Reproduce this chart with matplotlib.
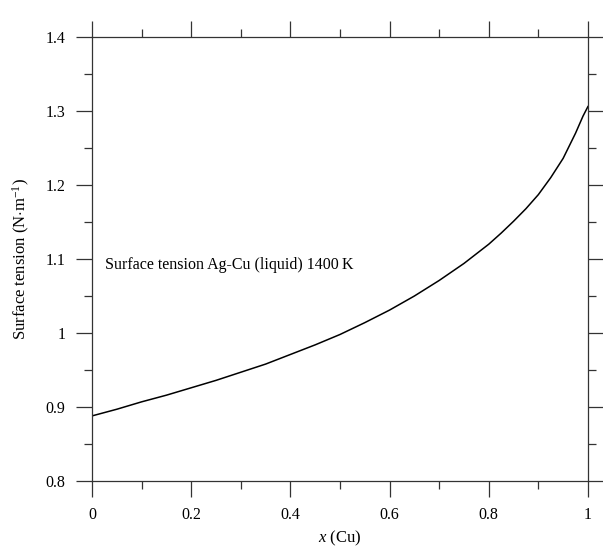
import matplotlib
matplotlib.use("Agg")
import matplotlib.pyplot as plt
from matplotlib.ticker import MultipleLocator, FuncFormatter

# ==========================================================
# DATA
# ==========================================================

x_cu = [0.0, 0.05, 0.1, 0.15, 0.2, 0.25, 0.3, 0.35, 0.4, 0.45,
        0.5, 0.55, 0.6, 0.65, 0.7, 0.75, 0.8, 0.825, 0.85, 0.875,
        0.9, 0.925, 0.95, 0.975, 0.99, 1.0]
sigma = [0.888, 0.897, 0.907, 0.916, 0.926, 0.936, 0.947, 0.958, 0.971, 0.984,
         0.998, 1.014, 1.031, 1.050, 1.071, 1.094, 1.120, 1.135, 1.151, 1.168,
         1.187, 1.210, 1.236, 1.270, 1.293, 1.306]

x_ticks = [0, 0.2, 0.4, 0.6, 0.8, 1.0]
y_ticks = [0.8, 0.9, 1.0, 1.1, 1.2, 1.3, 1.4]

label_text = "Surface tension Ag-Cu (liquid) 1400\u2009K"

# ==========================================================
# FIGURE
# ==========================================================

plt.rcParams["font.family"] = ["Liberation Serif", "DejaVu Serif"]
plt.rcParams["mathtext.fontset"] = "custom"
plt.rcParams["mathtext.rm"] = "Liberation Serif"
plt.rcParams["mathtext.it"] = "Liberation Serif:italic"

fig = plt.figure(figsize=(6.03, 5.55), dpi=100)
ax = fig.add_axes([0.1526, 0.1333, 0.8224, 0.8])

ax.plot(x_cu, sigma, color="black", linewidth=1.1)

ax.set_xlim(0, 1)
ax.set_ylim(0.8, 1.4)

ax.set_xticks(x_ticks)
ax.set_yticks(y_ticks)
ax.xaxis.set_minor_locator(MultipleLocator(0.1))
ax.yaxis.set_minor_locator(MultipleLocator(0.05))

fmt = FuncFormatter(lambda v, p: f"{v:g}")
ax.xaxis.set_major_formatter(fmt)
ax.yaxis.set_major_formatter(fmt)

ax.tick_params(which="both", direction="out", top=True, right=True,
               labeltop=False, labelright=False, color="#333333",
               width=0.9, labelsize=11.5)
ax.tick_params(which="major", length=11.5, pad=7.5)
ax.tick_params(which="minor", length=5.8)

for s in ax.spines.values():
    s.set_linewidth(0.9)
    s.set_color("#333333")

ax.text(0.026, 1.092, label_text, fontsize=11.5, va="center", ha="left")

ax.set_xlabel("$x$ (Cu)", fontsize=12, labelpad=4)
ax.set_ylabel("Surface tension (N$\\cdot$m$^{-1}$)", fontsize=12, labelpad=10)

plt.savefig("out.png", dpi=100)
